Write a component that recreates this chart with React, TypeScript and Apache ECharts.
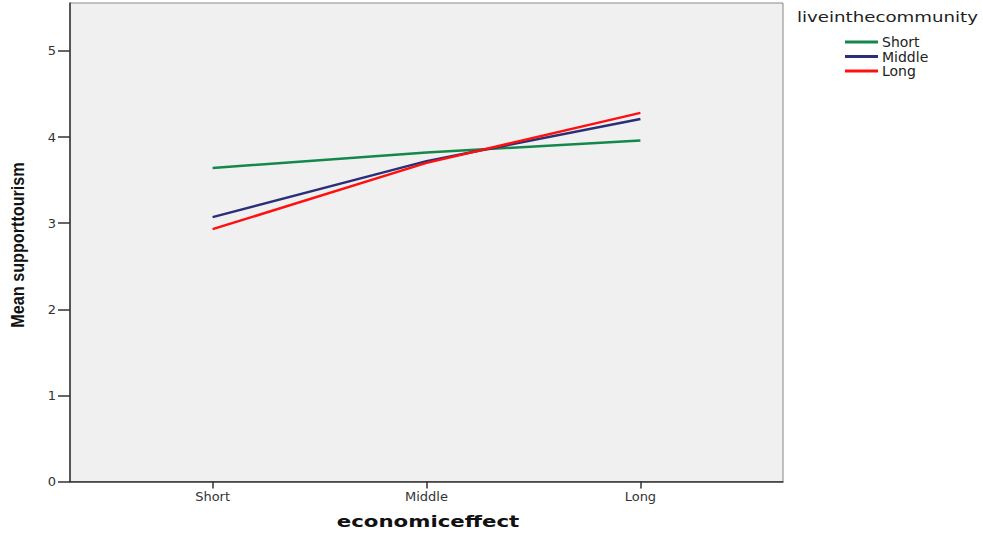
import React, { useEffect, useRef } from "react";
import * as echarts from "echarts";

const categories = ["Short", "Middle", "Long"];
const seriesNames = ["Short", "Middle", "Long"];
const shortValues = [3.64, 3.82, 3.96];
const middleValues = [3.07, 3.72, 4.21];
const longValues = [2.93, 3.70, 4.28];
const yTicks = [0, 1, 2, 3, 4, 5];
const colors = ["#13884a", "#2a2f78", "#ff1010"];

export default function App() {
  const ref = useRef<HTMLDivElement>(null);
  useEffect(() => {
    if (!ref.current) return;
    const chart = echarts.init(ref.current, null, { renderer: "svg" });
    const all = [shortValues, middleValues, longValues];
    chart.setOption({
      animation: false,
      grid: {
        left: 70,
        top: 3,
        width: 713,
        height: 478.5,
        show: true,
        backgroundColor: "#f0f0f0",
        borderColor: "#888",
        borderWidth: 1,
      },
      xAxis: {
        type: "value",
        min: -2 / 3,
        max: 8 / 3,
        splitLine: { show: false },
        axisLine: { show: true, lineStyle: { color: "#333", width: 1.5 } },
        axisTick: { show: true, customValues: [0, 1, 2], length: 7, lineStyle: { color: "#333", width: 1.5 } },
        axisLabel: {
          customValues: [0, 1, 2],
          formatter: (v: number) => categories[Math.round(v)] ?? "",
          fontFamily: "DejaVu Sans",
          fontSize: 13,
          color: "#333",
          margin: 8,
        },
      },
      yAxis: {
        type: "value",
        min: 0,
        max: 5.556,
        splitLine: { show: false },
        axisLine: { show: true, onZero: false, lineStyle: { color: "#333", width: 1.5 } },
        axisTick: { show: true, customValues: yTicks, length: 12, lineStyle: { color: "#333", width: 1.5 } },
        axisLabel: {
          customValues: yTicks,
          fontFamily: "DejaVu Sans",
          fontSize: 13,
          color: "#333",
          margin: 14,
        },
      },
      legend: {
        orient: "vertical",
        left: 840,
        top: 30,
        icon: "rect",
        itemWidth: 33,
        itemHeight: 3,
        itemGap: 0.5,
        textStyle: { fontFamily: "DejaVu Sans", fontSize: 14, lineHeight: 14, color: "#222", padding: [0, 0, 0, -1] },
        data: seriesNames,
      },
      graphic: [
        {
          type: "text",
          x: 797,
          y: 10,
          scaleX: 1.3,
          style: {
            text: "liveinthecommunity",
            font: "14px 'DejaVu Sans'",
            fill: "#222",
          },
        },
        {
          type: "text",
          x: 428,
          y: 522,
          scaleX: 1.42,
          style: {
            text: "economiceffect",
            font: "bold 15px 'DejaVu Sans'",
            fill: "#111",
            align: "center",
            verticalAlign: "middle",
          },
        },
        {
          type: "text",
          x: 18,
          y: 245,
          rotation: Math.PI / 2,
          scaleX: 0.9,
          style: {
            text: "Mean supporttourism",
            font: "bold 18px 'Liberation Sans'",
            fill: "#111",
            align: "center",
            verticalAlign: "middle",
          },
        },
      ],
      series: all.map((vals, i) => ({
        name: seriesNames[i],
        type: "line",
        symbol: "none",
        color: colors[i],
        lineStyle: { width: 2.5, color: colors[i] },
        data: vals.map((v, j) => [j, v]),
      })),
    });
    return () => chart.dispose();
  }, []);
  return <div ref={ref} style={{ width: 983, height: 533, position: "absolute", left: 0, top: 0 }} />;
}
